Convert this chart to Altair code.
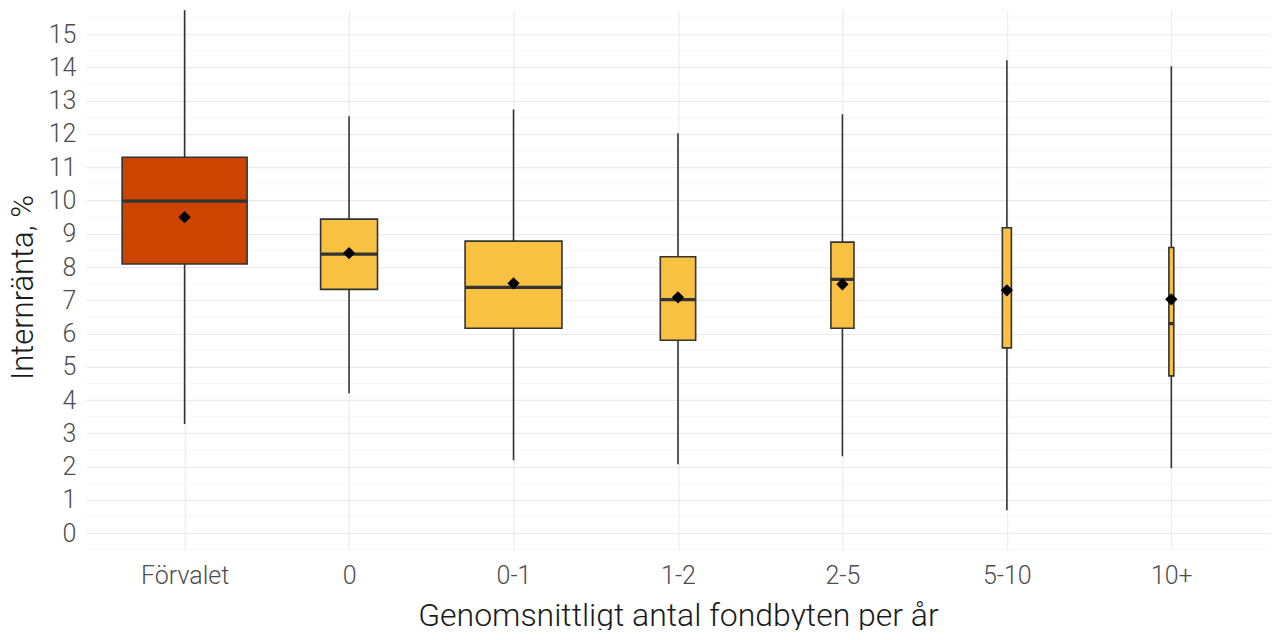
import altair as alt
import pandas as pd

categories = ["Förvalet", "0", "0-1", "1-2", "2-5", "5-10", "10+"]
position = [1, 2, 3, 4, 5, 6, 7]
whisker_low = [3.28, 4.21, 2.19, 2.07, 2.31, 0.69, 1.95]
q1 = [8.09, 7.33, 6.16, 5.80, 6.16, 5.57, 4.73]
median = [9.98, 8.39, 7.39, 7.02, 7.63, 7.28, 6.30]
q3 = [11.30, 9.44, 8.78, 8.31, 8.75, 9.18, 8.59]
whisker_high = [16.5, 12.53, 12.74, 12.02, 12.59, 14.22, 14.04]
mean = [9.50, 8.42, 7.51, 7.09, 7.48, 7.30, 7.03]
rel_width = [0.76, 0.346, 0.589, 0.215, 0.14, 0.055, 0.03]
group = ["Förvalet", "Övriga", "Övriga", "Övriga", "Övriga", "Övriga", "Övriga"]
y_ticks = list(range(0, 16))
minor_grid = [-0.5, 0.5, 1.5, 2.5, 3.5, 4.5, 5.5, 6.5, 7.5, 8.5, 9.5, 10.5,
              11.5, 12.5, 13.5, 14.5, 15.5]

df = pd.DataFrame({
    "pos": position, "cat": categories, "low": whisker_low, "q1": q1,
    "med": median, "q3": q3, "high": whisker_high, "mean": mean,
    "w": rel_width, "grp": group,
})
grid_df = pd.DataFrame({"v": minor_grid})

FONT = "Roboto"
ydom = [-0.5, 15.72]
xdom = [0.4, 7.6]

label_expr = "[" + ",".join("'" + c + "'" for c in categories) + "][datum.value - 1]"

x_axis = alt.Axis(values=position, labelExpr=label_expr, title="Genomsnittligt antal fondbyten per år",
                  grid=True, gridColor="#EBEBEB", gridWidth=1.2, domain=False, ticks=False,
                  labelFontSize=25, labelColor="#4D4D4D", labelFont=FONT, labelFontWeight=300,
                  labelPadding=14, titleFontSize=32, titleFont=FONT, titleFontWeight=300,
                  titleColor="#1A1A1A", titlePadding=12)
y_axis = alt.Axis(values=y_ticks, title="Internränta, %", grid=True, gridColor="#EBEBEB",
                  gridWidth=1.2, domain=False, ticks=False, labelFontSize=25, labelColor="#4D4D4D",
                  labelFont=FONT, labelFontWeight=300, labelPadding=10, titleFontSize=31,
                  titleFont=FONT, titleFontWeight=300, titleColor="#1A1A1A", titleX=-62, titleY=277,
                  titleAlign="center", titleBaseline="middle")

xs = alt.Scale(domain=xdom, nice=False, zero=False)
ys = alt.Scale(domain=ydom, nice=False, zero=False)

base = alt.Chart(df).transform_calculate(
    xl="datum.pos - datum.w / 2", xr="datum.pos + datum.w / 2"
)

grid = alt.Chart(grid_df).mark_rule(color="#F4F4F4", strokeWidth=0.8).encode(
    y=alt.Y("v:Q", scale=ys, axis=y_axis),
    x=alt.value(0), x2=alt.value(1185),
)

whisk = base.mark_rule(color="#333333", strokeWidth=1.6, clip=True).encode(
    x=alt.X("pos:Q", scale=xs, axis=x_axis),
    y=alt.Y("low:Q", scale=ys, axis=y_axis),
    y2="high:Q",
)

box = base.mark_rect(stroke="#333333", strokeWidth=1.6).encode(
    x=alt.X("xl:Q", scale=xs, axis=x_axis),
    x2="xr:Q",
    y=alt.Y("q1:Q", scale=ys, axis=y_axis),
    y2="q3:Q",
    fill=alt.Color("grp:N", scale=alt.Scale(domain=["Förvalet", "Övriga"], range=["#CC4400", "#F8C142"]),
                   legend=None),
)

med = base.mark_rule(color="#333333", strokeWidth=3.2).encode(
    x=alt.X("xl:Q", scale=xs, axis=x_axis),
    x2="xr:Q",
    y=alt.Y("med:Q", scale=ys, axis=y_axis),
)

mn = base.mark_point(shape="diamond", filled=True, color="#000000", size=150, opacity=1).encode(
    x=alt.X("pos:Q", scale=xs, axis=x_axis),
    y=alt.Y("mean:Q", scale=ys, axis=y_axis),
)

chart = alt.layer(grid, whisk, box, med, mn).properties(
    width=1185, height=540,
    autosize=alt.AutoSizeParams(type="none"),
    padding={"left": 78, "top": 2, "right": 2, "bottom": 80},
).configure_view(stroke=None)

chart.save("out.html", embed_options={"renderer": "svg", "actions": False})
